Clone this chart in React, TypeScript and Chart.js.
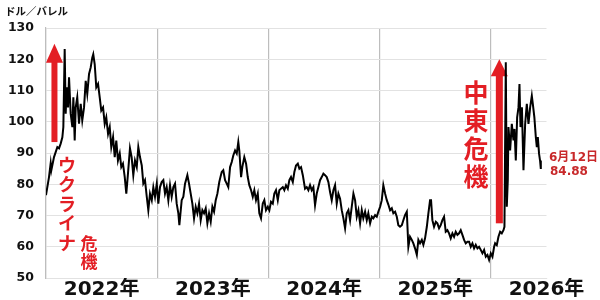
import React, { useEffect, useRef } from 'react';
import { Chart, registerables } from 'chart.js';

Chart.register(...registerables);

// ---- data ----
const unitLabel = 'ドル／バレル';
const yearLabels = ['2022年', '2023年', '2024年', '2025年', '2026年'];
const yMin = 50;
const yMax = 130;
const yStep = 10;
const lastDateLabel = '6月12日';
const lastValueLabel = '84.88';
const crisisUkraine = ['ウ', 'ク', 'ラ', 'イ', 'ナ'];
const crisisUkraine2 = ['危', '機'];
const crisisMideast = ['中', '東', '危', '機'];

const dates = [
  2022.000, 2022.027, 2022.042, 2022.048, 2022.072, 2022.087, 2022.102, 2022.117, 2022.132, 2022.147,
  2022.156, 2022.168, 2022.177, 2022.186, 2022.198, 2022.207, 2022.222, 2022.237, 2022.246, 2022.258,
  2022.267, 2022.281, 2022.297, 2022.312, 2022.326, 2022.342, 2022.357, 2022.371, 2022.387, 2022.402,
  2022.416, 2022.425, 2022.438, 2022.452, 2022.468, 2022.483, 2022.497, 2022.513, 2022.528, 2022.542,
  2022.558, 2022.573, 2022.587, 2022.603, 2022.618, 2022.632, 2022.647, 2022.663, 2022.677, 2022.692,
  2022.708, 2022.722, 2022.737, 2022.755, 2022.770, 2022.785, 2022.800, 2022.816, 2022.830, 2022.845,
  2022.861, 2022.875, 2022.890, 2022.906, 2022.920, 2022.935, 2022.951, 2022.965, 2022.980, 2022.996,
  2023.010, 2023.025, 2023.040, 2023.055, 2023.070, 2023.085, 2023.100, 2023.115, 2023.130, 2023.145,
  2023.160, 2023.175, 2023.190, 2023.199, 2023.220, 2023.235, 2023.250, 2023.271, 2023.286, 2023.301,
  2023.316, 2023.331, 2023.346, 2023.361, 2023.376, 2023.391, 2023.406, 2023.421, 2023.436, 2023.451,
  2023.466, 2023.481, 2023.496, 2023.511, 2023.526, 2023.541, 2023.558, 2023.565, 2023.580, 2023.594,
  2023.610, 2023.625, 2023.639, 2023.655, 2023.670, 2023.684, 2023.700, 2023.715, 2023.729, 2023.738,
  2023.754, 2023.765, 2023.783, 2023.799, 2023.814, 2023.828, 2023.844, 2023.859, 2023.873, 2023.888,
  2023.904, 2023.918, 2023.933, 2023.949, 2023.963, 2023.978, 2023.994, 2024.008, 2024.023, 2024.039,
  2024.053, 2024.068, 2024.084, 2024.098, 2024.113, 2024.129, 2024.143, 2024.158, 2024.174, 2024.188,
  2024.203, 2024.219, 2024.233, 2024.248, 2024.264, 2024.278, 2024.293, 2024.309, 2024.329, 2024.344,
  2024.359, 2024.374, 2024.389, 2024.404, 2024.419, 2024.434, 2024.449, 2024.464, 2024.479, 2024.494,
  2024.509, 2024.524, 2024.539, 2024.554, 2024.569, 2024.584, 2024.599, 2024.614, 2024.629, 2024.644,
  2024.659, 2024.674, 2024.689, 2024.704, 2024.719, 2024.734, 2024.749, 2024.764, 2024.779, 2024.794,
  2024.809, 2024.824, 2024.839, 2024.853, 2024.869, 2024.884, 2024.898, 2024.914, 2024.929, 2024.943,
  2024.959, 2024.974, 2024.988, 2025.004, 2025.019, 2025.033, 2025.049, 2025.064, 2025.078, 2025.094,
  2025.109, 2025.123, 2025.139, 2025.154, 2025.168, 2025.183, 2025.199, 2025.213, 2025.228, 2025.244,
  2025.258, 2025.273, 2025.289, 2025.303, 2025.318, 2025.334, 2025.348, 2025.363, 2025.379, 2025.393,
  2025.408, 2025.424, 2025.438, 2025.453, 2025.462, 2025.474, 2025.489, 2025.505, 2025.519, 2025.534,
  2025.549, 2025.564, 2025.579, 2025.594, 2025.609, 2025.624, 2025.639, 2025.654, 2025.669, 2025.684,
  2025.699, 2025.714, 2025.729, 2025.744, 2025.759, 2025.774, 2025.789, 2025.804, 2025.819, 2025.834,
  2025.849, 2025.864, 2025.879, 2025.894, 2025.909, 2025.924, 2025.939, 2025.954, 2025.969, 2025.984,
  2025.999, 2026.014, 2026.029, 2026.038, 2026.053, 2026.068, 2026.083, 2026.098, 2026.113, 2026.122,
  2026.134, 2026.143, 2026.152, 2026.158, 2026.173, 2026.188, 2026.203, 2026.212, 2026.224, 2026.236,
  2026.248, 2026.257, 2026.266, 2026.279, 2026.293, 2026.308, 2026.323, 2026.338, 2026.353, 2026.368,
  2026.377, 2026.391, 2026.404, 2026.413, 2026.422, 2026.433, 2026.442, 2026.449,
];

const prices = [
  76.5, 82.3, 86.7, 84.5, 88.7, 90.3, 91.9, 91.5, 93.0, 95.0,
  98.3, 123.3, 102.6, 111.0, 104.6, 114.2, 102.6, 98.3, 107.8, 94.0,
  104.6, 107.8, 99.4, 105.7, 100.4, 104.6, 113.1, 108.9, 115.3, 117.4,
  120.5, 121.6, 118.4, 111.0, 112.1, 107.8, 103.6, 104.6, 99.3, 101.4,
  96.1, 98.3, 91.9, 95.1, 88.7, 94.0, 87.6, 89.9, 85.5, 86.6,
  82.3, 77.0, 83.4, 91.5, 88.7, 82.9, 87.6, 85.5, 91.9, 88.7,
  86.0, 80.2, 81.3, 76.0, 71.7, 77.0, 74.9, 79.0, 76.0, 80.2,
  73.8, 79.1, 80.7, 81.3, 77.0, 79.1, 74.9, 79.7, 76.0, 79.1,
  80.2, 73.8, 70.7, 66.9, 74.9, 76.0, 80.2, 82.9, 80.2, 77.0,
  73.8, 69.1, 72.8, 70.7, 73.8, 68.5, 71.7, 70.7, 72.3, 67.5,
  70.7, 68.0, 72.8, 71.2, 74.9, 77.0, 80.7, 81.8, 83.9, 84.5,
  81.3, 80.2, 79.1, 85.5, 87.1, 89.2, 90.8, 89.8, 93.5, 90.8,
  82.3, 85.5, 88.7, 86.6, 82.3, 79.7, 78.1, 76.0, 78.1, 74.9,
  77.0, 70.7, 69.1, 73.8, 74.9, 71.7, 72.8, 71.7, 74.4, 73.8,
  77.0, 78.1, 74.9, 78.1, 78.6, 79.1, 78.1, 79.7, 78.6, 81.3,
  82.3, 80.7, 83.9, 86.0, 86.6, 85.0, 85.5, 82.9, 78.6, 79.1,
  78.1, 79.7, 78.1, 79.1, 73.3, 77.0, 79.1, 81.3, 82.3, 83.4,
  82.9, 82.3, 80.7, 77.5, 74.9, 78.1, 79.7, 73.8, 77.0, 75.4,
  71.7, 69.1, 65.9, 70.7, 71.7, 68.5, 72.8, 77.0, 74.9, 69.6,
  71.7, 67.5, 71.7, 69.1, 71.2, 68.5, 70.7, 67.5, 69.6, 69.1,
  70.1, 69.6, 71.2, 72.8, 74.9, 79.7, 77.0, 74.9, 73.5, 71.7,
  72.3, 70.7, 71.2, 69.6, 66.9, 66.4, 66.9, 68.5, 70.1, 71.2,
  60.0, 63.2, 62.2, 61.1, 59.5, 57.4, 62.2, 61.1, 62.2, 60.6,
  62.7, 66.4, 70.7, 74.9, 74.9, 68.5, 66.4, 68.0, 67.5, 65.9,
  66.9, 68.5, 69.6, 64.8, 65.3, 64.3, 62.7, 64.3, 63.2, 64.8,
  63.8, 64.3, 65.3, 63.8, 62.2, 61.1, 61.6, 61.6, 60.0, 61.1,
  59.5, 60.6, 59.5, 60.0, 59.0, 57.9, 59.0, 56.8, 57.4, 55.8,
  57.9, 56.8, 60.0, 61.1, 60.5, 63.2, 64.8, 64.3, 65.3, 66.4,
  119.0, 72.8, 81.3, 98.3, 90.8, 99.3, 94.0, 97.7, 87.6, 101.4,
  104.6, 112.1, 98.3, 104.6, 84.5, 99.3, 105.7, 99.3, 104.6, 108.3,
  105.7, 101.4, 95.1, 91.9, 95.1, 89.8, 87.6, 84.88,
];

const RED = '#e31e24';
const DARK_RED = '#c8282a';
const FONT = '"DejaVu Sans", "Noto Sans CJK JP", sans-serif';
const JP_FONT = '"Noto Sans CJK JP", sans-serif';

const annotationPlugin = {
  id: 'annotations',
  beforeDatasetsDraw(chart: any) {
    const { ctx, scales } = chart;
    const xs = scales.x;
    const ys = scales.y;
    const drawArrow = (xv: number, fromV: number, toV: number, shaftW: number, headW: number, headH: number) => {
      const x = xs.getPixelForValue(xv);
      const yb = ys.getPixelForValue(fromV);
      const yt = ys.getPixelForValue(toV);
      ctx.save();
      ctx.fillStyle = RED;
      ctx.fillRect(x - shaftW / 2, yt + headH - 1, shaftW, yb - (yt + headH) + 1);
      ctx.beginPath();
      ctx.moveTo(x, yt);
      ctx.lineTo(x + headW / 2, yt + headH);
      ctx.lineTo(x - headW / 2, yt + headH);
      ctx.closePath();
      ctx.fill();
      ctx.restore();
    };
    drawArrow(2022.076, 93.5, 125.0, 6, 17, 19);
    drawArrow(2026.076, 67.5, 120.0, 7, 17, 17);
  },
  afterDatasetsDraw(chart: any) {
    const { ctx } = chart;
    ctx.save();
    ctx.textAlign = 'center';
    ctx.textBaseline = 'middle';
    ctx.fillStyle = RED;
    ctx.font = `bold 18px ${JP_FONT}`;
    crisisUkraine.forEach((c, i) => ctx.fillText(c, 67, 165 + i * 19.5));
    ctx.font = `bold 17px ${JP_FONT}`;
    crisisUkraine2.forEach((c, i) => ctx.fillText(c, 89, 244 + i * 18));
    ctx.font = `bold 25px ${JP_FONT}`;
    crisisMideast.forEach((c, i) => ctx.fillText(c, 476, 92 + i * 28));
    ctx.textAlign = 'left';
    ctx.fillStyle = DARK_RED;
    ctx.font = `bold 12px ${FONT}`;
    ctx.fillText(lastDateLabel, 549, 158);
    ctx.fillText(lastValueLabel, 550, 172);
    ctx.fillStyle = '#111';
    ctx.font = `bold 10.5px ${JP_FONT}`;
    ctx.fillText(unitLabel, 5, 11);
    ctx.restore();
  },
};

export default function App() {
  const ref = useRef<HTMLCanvasElement | null>(null);

  useEffect(() => {
    if (!ref.current) return;
    const points = dates.map((d, i) => ({ x: d, y: prices[i] }));
    const chart = new Chart(ref.current, {
      type: 'line',
      data: {
        datasets: [
          {
            data: points,
            borderColor: '#000',
            borderWidth: 2,
            pointRadius: 0,
            tension: 0,
            fill: false,
          },
        ],
      },
      options: {
        responsive: false,
        animation: false,
        events: [],
        layout: { padding: { top: 28, right: 53.5, left: 0, bottom: 0 } },
        plugins: { legend: { display: false }, tooltip: { enabled: false } },
        scales: {
          x: {
            type: 'linear',
            min: 2022,
            max: 2026.5,
            afterBuildTicks: (scale: any) => {
              const t: any[] = [];
              for (let i = 0; i < yearLabels.length; i++) {
                t.push({ value: 2022 + i });
                t.push({ value: 2022 + i + 0.5 });
              }
              scale.ticks = t;
            },
            afterFit: (scale: any) => {
              scale.height = 22;
            },
            ticks: {
              autoSkip: false,
              maxRotation: 0,
              minRotation: 0,
              padding: 0,
              color: '#111',
              font: { family: FONT, size: 20, weight: 'bold' },
              callback: (v: any) => {
                const n = Number(v);
                if (Math.abs(n - Math.round(n)) < 1e-6) return '';
                return yearLabels[Math.floor(n) - 2022] ?? '';
              },
            },
            grid: {
              drawTicks: false,
              color: (c: any) =>
                c.tick && Math.abs(c.tick.value - Math.round(c.tick.value)) < 1e-6 ? '#bdbdbd' : 'rgba(0,0,0,0)',
              lineWidth: 1.2,
            },
            border: { display: true, color: '#e2e2e2' },
          },
          y: {
            min: yMin,
            max: yMax,
            afterFit: (scale: any) => {
              scale.width = 46;
            },
            ticks: {
              stepSize: yStep,
              padding: 12,
              color: '#111',
              font: { family: FONT, size: 12.5, weight: 'bold' },
            },
            grid: { drawTicks: false, color: '#e2e2e2', lineWidth: 1 },
            border: { display: true, color: '#bdbdbd', width: 1.2 },
          },
        },
      },
      plugins: [annotationPlugin],
    });
    return () => chart.destroy();
  }, []);

  return (
    <div style={{ position: 'fixed', left: 0, top: 0, width: 600, height: 300, background: '#fff' }}>
      <canvas ref={ref} width={600} height={300} />
    </div>
  );
}
